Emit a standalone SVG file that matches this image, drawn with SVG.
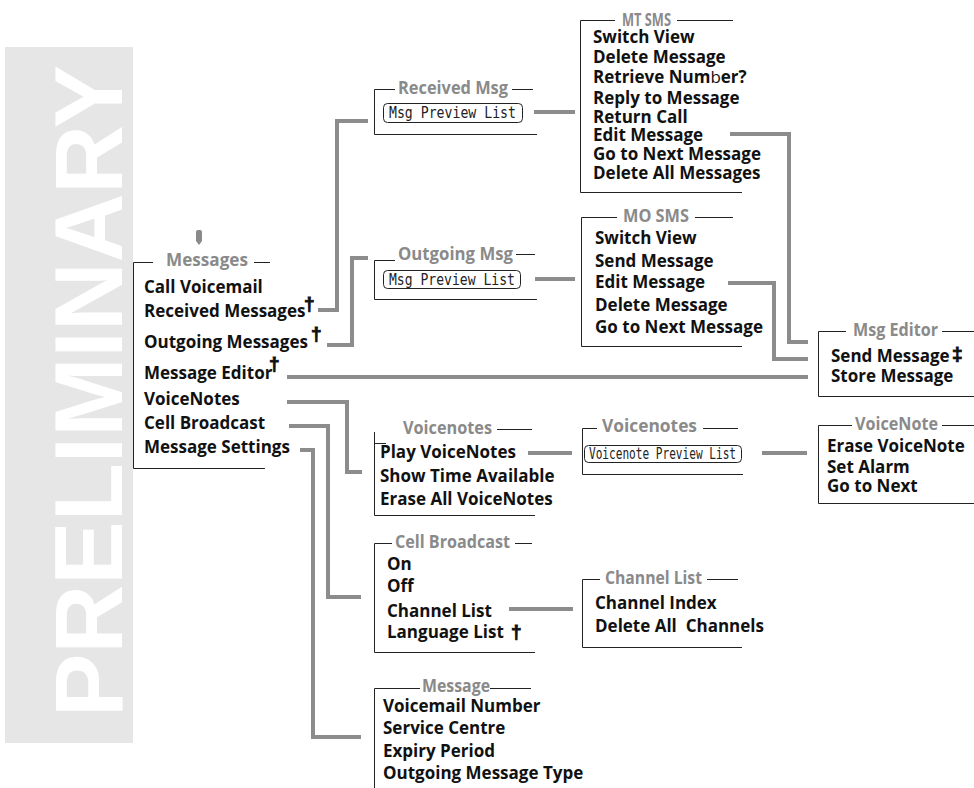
<svg xmlns="http://www.w3.org/2000/svg" width="974" height="788" viewBox="0 0 974 788">
<style>
.it{font-family:"Open Sans","Liberation Sans",sans-serif;font-weight:700;font-size:17px;fill:#111}
.hd{font-family:"Open Sans","Liberation Sans",sans-serif;font-weight:700;font-size:17px;fill:#8a8a8a}
.dg{font-family:"Liberation Sans","Open Sans",sans-serif;font-weight:700;font-size:19px;fill:#111;stroke:#111;stroke-width:0.9}
.fr{fill:none;stroke:#222;stroke-width:1}
.cn{fill:none;stroke:#8c8c8c;stroke-width:4;stroke-linejoin:miter}
.lcd{font-family:"DejaVu Sans Mono","Liberation Mono",monospace;font-size:15px;fill:#222}
.pv{fill:#fff;stroke:#222;stroke-width:1}
.nb{font-weight:400}
</style>
<rect width="974" height="788" fill="#fff"/>
<g id="watermark">
<rect x="5" y="47" width="128" height="696" fill="#e6e6e6"/>
<text transform="translate(122,717) rotate(-90)" font-family="Liberation Sans, sans-serif" font-weight="bold" font-size="96" fill="#fff" textLength="652" lengthAdjust="spacingAndGlyphs">PRELIMINARY</text>
</g>
<g id="connectors">
<path class="cn" d="M318,310 H337 V121 H368"/>
<path class="cn" d="M327,345 H352 V258 H368"/>
<path class="cn" d="M534,112 H575"/>
<path class="cn" d="M535,279 H575"/>
<path class="cn" d="M730,134 H789 V342 H808"/>
<path class="cn" d="M728,283 H774 V359 H808"/>
<path class="cn" d="M287,377 H808"/>
<path class="cn" d="M287,402 H347 V472 H362"/>
<path class="cn" d="M289,426 H328 V597 H361"/>
<path class="cn" d="M300,450 H313 V737 H361"/>
<path class="cn" d="M528,453 H572"/>
<path class="cn" d="M762,453 H807"/>
<path class="cn" d="M509,609 H573"/>
</g>
<g id="messages">
<path d="M196,232 Q196,230 198,230 H200 Q202,230 202,232 V241 L199,245 L196,241 Z" fill="#8a8a8a"/>
<path class="fr" d="M153,262.5 H133.5 V468.5 H265 M254,262.5 H270"/>
<text class="hd" x="166" y="266" textLength="82" lengthAdjust="spacingAndGlyphs">Messages</text>
<text class="it" x="144" y="293">Call Voicemail</text>
<text class="it" x="144" y="317">Received Messages</text>
<text class="dg" x="304" y="310">†</text>
<text class="it" x="144" y="348">Outgoing Messages</text>
<text class="dg" x="311" y="340">†</text>
<text class="it" x="144" y="379">Message Editor</text>
<text class="dg" x="269" y="370">†</text>
<text class="it" x="144" y="405">VoiceNotes</text>
<text class="it" x="144" y="429">Cell Broadcast</text>
<text class="it" x="144" y="453">Message Settings</text>
</g>
<g id="received-msg">
<path class="fr" d="M395,89.5 H374.5 V134.5 H537 M512,89.5 H533"/>
<text class="hd" x="398" y="94" textLength="110" lengthAdjust="spacingAndGlyphs">Received Msg</text>
<rect class="pv" x="383.5" y="103.5" width="139" height="19" rx="4"/>
<text class="lcd" x="389" y="118" textLength="127" lengthAdjust="spacingAndGlyphs">Msg Preview List</text>
</g>
<g id="mt-sms">
<path class="fr" d="M615,20.5 H580.5 V192.5 H742 M677,20.5 H733"/>
<text class="hd" x="622" y="26" textLength="49" lengthAdjust="spacingAndGlyphs">MT SMS</text>
<text class="it" x="593" y="43">Switch View</text>
<text class="it" x="593" y="63">Delete Message</text>
<text class="it" x="593" y="83">Retrieve Num<tspan class="nb">b</tspan>er?</text>
<text class="it" x="593" y="104">Reply to Message</text>
<text class="it" x="593" y="123">Return Call</text>
<text class="it" x="593" y="141">Edit Message</text>
<text class="it" x="593" y="160">Go to Next Message</text>
<text class="it" x="593" y="179">Delete All Messages</text>
</g>
<g id="outgoing-msg">
<path class="fr" d="M395,260.5 H374.5 V299.5 H537 M516,254.5 H535"/>
<text class="hd" x="398" y="260" textLength="115" lengthAdjust="spacingAndGlyphs">Outgoing Msg</text>
<rect class="pv" x="383.5" y="270.5" width="137" height="18" rx="4"/>
<text class="lcd" x="389" y="285" textLength="126" lengthAdjust="spacingAndGlyphs">Msg Preview List</text>
</g>
<g id="mo-sms">
<path class="fr" d="M617,217.5 H581.5 V346.5 H742 M695,217.5 H733"/>
<text class="hd" x="623" y="222" textLength="66" lengthAdjust="spacingAndGlyphs">MO SMS</text>
<text class="it" x="595" y="244">Switch View</text>
<text class="it" x="595" y="267">Send Message</text>
<text class="it" x="595" y="288">Edit Message</text>
<text class="it" x="595" y="311">Delete Message</text>
<text class="it" x="595" y="333">Go to Next Message</text>
</g>
<g id="msg-editor">
<path class="fr" d="M846,331.5 H818.5 V396.5 H974 M942,331.5 H974"/>
<text class="hd" x="853" y="336" textLength="85" lengthAdjust="spacingAndGlyphs">Msg Editor</text>
<text class="it" x="831" y="362">Send Message</text>
<text class="dg" x="952" y="360">‡</text>
<text class="it" x="831" y="382">Store Message</text>
</g>
<g id="voicenotes-menu">
<path class="fr" d="M374.5,432 V515.5 H535 M374,443.5 H386 M497,429.5 H532"/>
<text class="hd" x="403" y="434" textLength="89" lengthAdjust="spacingAndGlyphs">Voicenotes</text>
<text class="it" x="380" y="458">Play VoiceNotes</text>
<text class="it" x="380" y="482">Show Time Available</text>
<text class="it" x="380" y="505">Erase All VoiceNotes</text>
</g>
<g id="voicenotes-list">
<path class="fr" d="M597,428.5 H582.5 V474.5 H743 M703,428.5 H738"/>
<text class="hd" x="602" y="432" textLength="95" lengthAdjust="spacingAndGlyphs">Voicenotes</text>
<rect class="pv" x="584.5" y="445.5" width="157" height="17" rx="4"/>
<text class="lcd" x="589" y="459" textLength="147" lengthAdjust="spacingAndGlyphs">Voicenote Preview List</text>
</g>
<g id="voicenote">
<path class="fr" d="M852,425.5 H818.5 V503.5 H974 M942,425.5 H974"/>
<text class="hd" x="855" y="430" textLength="83" lengthAdjust="spacingAndGlyphs">VoiceNote</text>
<text class="it" x="827" y="452">Erase VoiceNote</text>
<text class="it" x="827" y="473">Set Alarm</text>
<text class="it" x="827" y="492">Go to Next</text>
</g>
<g id="cell-broadcast">
<path class="fr" d="M392,543.5 H374.5 V652.5 H535 M515,543.5 H532"/>
<text class="hd" x="395" y="548" textLength="115" lengthAdjust="spacingAndGlyphs">Cell Broadcast</text>
<text class="it" x="387" y="570">On</text>
<text class="it" x="387" y="592">Off</text>
<text class="it" x="387" y="617">Channel List</text>
<text class="it" x="387" y="638">Language List</text>
<text class="dg" x="511" y="638">†</text>
</g>
<g id="channel-list">
<path class="fr" d="M600,579.5 H582.5 V647.5 H742 M707,579.5 H738"/>
<text class="hd" x="605" y="584" textLength="97" lengthAdjust="spacingAndGlyphs">Channel List</text>
<text class="it" x="595" y="609">Channel Index</text>
<text class="it" x="595" y="632" xml:space="preserve">Delete All  Channels</text>
</g>
<g id="message-settings">
<path class="fr" d="M420,688.5 H374.5 V788 M490,688.5 H531"/>
<text class="hd" x="422" y="692" textLength="68" lengthAdjust="spacingAndGlyphs">Message</text>
<text class="it" x="383" y="712">Voicemail Number</text>
<text class="it" x="383" y="734">Service Centre</text>
<text class="it" x="383" y="757">Expiry Period</text>
<text class="it" x="383" y="779">Outgoing Message Type</text>
</g>
</svg>
